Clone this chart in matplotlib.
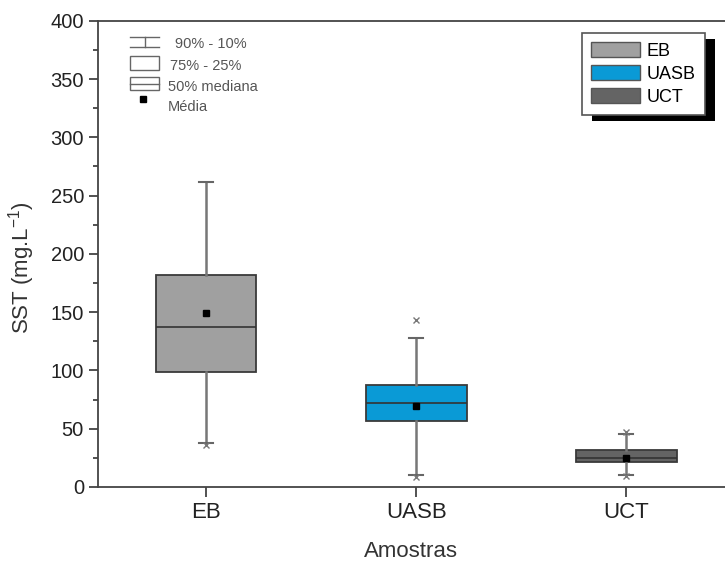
import numpy as np
import matplotlib.pyplot as plt
from matplotlib.patches import Patch, Rectangle
from matplotlib.lines import Line2D

plt.rcParams['font.family'] = ['Liberation Sans', 'DejaVu Sans']
plt.rcParams['mathtext.fontset'] = 'custom'
plt.rcParams['mathtext.rm'] = 'Liberation Sans'

# data (mg/L)
samples = ["EB", "UASB", "UCT"]
p10 = [37.5, 10.0, 10.5]
p25 = [99.0, 57.0, 21.5]
med = [137.5, 72.0, 25.0]
p75 = [181.5, 87.5, 31.5]
p90 = [262.0, 128.0, 45.5]
means = [149.0, 69.5, 25.0]
fliers = [[36.0], [143.0, 8.5], [47.5, 9.5]]
colors = ["#a0a0a0", "#0a9ad6", "#646464"]

fig = plt.figure(figsize=(7.25, 5.61), dpi=100)
ax = fig.add_axes([0.135, 0.132, 0.865, 0.831])

stats = []
for i in range(len(samples)):
    stats.append(dict(label=samples[i], whislo=p10[i], q1=p25[i], med=med[i],
                      q3=p75[i], whishi=p90[i], mean=means[i], fliers=fliers[i]))

bp = ax.bxp(stats, positions=[1, 2, 3], widths=0.48, patch_artist=True,
            showmeans=True, showfliers=True,
            boxprops=dict(edgecolor="#3a3a3a", linewidth=1.3),
            medianprops=dict(color="#333333", linewidth=1.2),
            whiskerprops=dict(color="#777777", linewidth=1.8),
            capprops=dict(color="#666666", linewidth=1.5),
            capwidths=0.065,
            meanprops=dict(marker="s", markerfacecolor="black", markeredgecolor="black", markersize=4),
            flierprops=dict(marker="x", markeredgecolor="#777777", markersize=5, markeredgewidth=1))
for patch, c in zip(bp["boxes"], colors):
    patch.set_facecolor(c)

ax.set_xlim(0.485, 3.47)
ax.set_ylim(0, 400)
ax.set_yticks(np.arange(0, 401, 50))
ax.set_yticks(np.arange(25, 400, 50), minor=True)
ax.set_xticks([1, 2, 3])
ax.set_xticklabels(samples)
ax.tick_params(axis="both", color="#333333", width=1.2, length=6.5, labelcolor="#222222")
ax.tick_params(axis="y", labelsize=14.5)
ax.tick_params(axis="x", labelsize=16, length=7, pad=4)
ax.tick_params(axis="y", which="minor", length=3.5, width=1.2, color="#333333")
for s in ["left", "bottom", "top"]:
    ax.spines[s].set_color("#444444")
    ax.spines[s].set_linewidth(1.3)
ax.spines["right"].set_visible(False)

ax.set_ylabel("SST (mg.L$^{\\mathregular{-1}}$)", fontsize=16, color="#333333")
ax.yaxis.set_label_coords(-0.097, 0.47)
ax.set_xlabel("Amostras", fontsize=16, color="#333333", labelpad=13)

# percentile key (top left), drawn in figure pixels
def px(x, y):
    return x / 725, 1 - y / 561

kc = "#666666"
x0, x1 = 130, 159
xm = (x0 + x1) / 2
for y in (37, 47):
    fig.add_artist(Line2D([px(x0, 0)[0], px(x1, 0)[0]], [px(0, y)[1]] * 2, color=kc, lw=1))
fig.add_artist(Line2D([px(xm, 0)[0]] * 2, [px(0, 37)[1], px(0, 47)[1]], color=kc, lw=1))
fig.add_artist(Rectangle(px(x0, 70), 29 / 725, 14 / 561, fill=False, edgecolor=kc, lw=1))
fig.add_artist(Rectangle(px(x0, 90), 29 / 725, 13 / 561, fill=False, edgecolor=kc, lw=1))
fig.add_artist(Line2D([px(x0, 0)[0], px(x1, 0)[0]], [px(0, 83.5)[1]] * 2, color=kc, lw=1))
fig.add_artist(Rectangle(px(140, 102), 6 / 725, 6 / 561, facecolor="black", edgecolor="black"))
key_text = ["90% - 10%", "75% - 25%", "50% mediana", "Média"]
key_pos = [(175, 44), (170, 66), (168, 87), (168, 107)]
for t, (x, y) in zip(key_text, key_pos):
    fig.text(*px(x, y), t, fontsize=10.5, color="#555555", va="center")

# colour legend with a hard black shadow
handles = [Patch(facecolor=c, edgecolor="#555555", linewidth=1) for c in colors]
leg = ax.legend(handles, samples, loc="upper left", bbox_to_anchor=px(582, 33),
                bbox_transform=fig.transFigure, borderaxespad=0, fontsize=13,
                fancybox=False, edgecolor="#555555", framealpha=1,
                handlelength=2.7, handleheight=0.9, labelspacing=0.3,
                handletextpad=0.4, borderpad=0.5)
leg.get_frame().set_linewidth(1.2)
leg.set_zorder(6)
fig.canvas.draw()
bb = leg.get_window_extent()
shadow = Rectangle((bb.x0 + 10, bb.y0 - 6), bb.width, bb.height,
                   transform=None, facecolor="black", zorder=5, clip_on=False)
ax.add_artist(shadow)

fig.savefig("out.png", dpi=100)
